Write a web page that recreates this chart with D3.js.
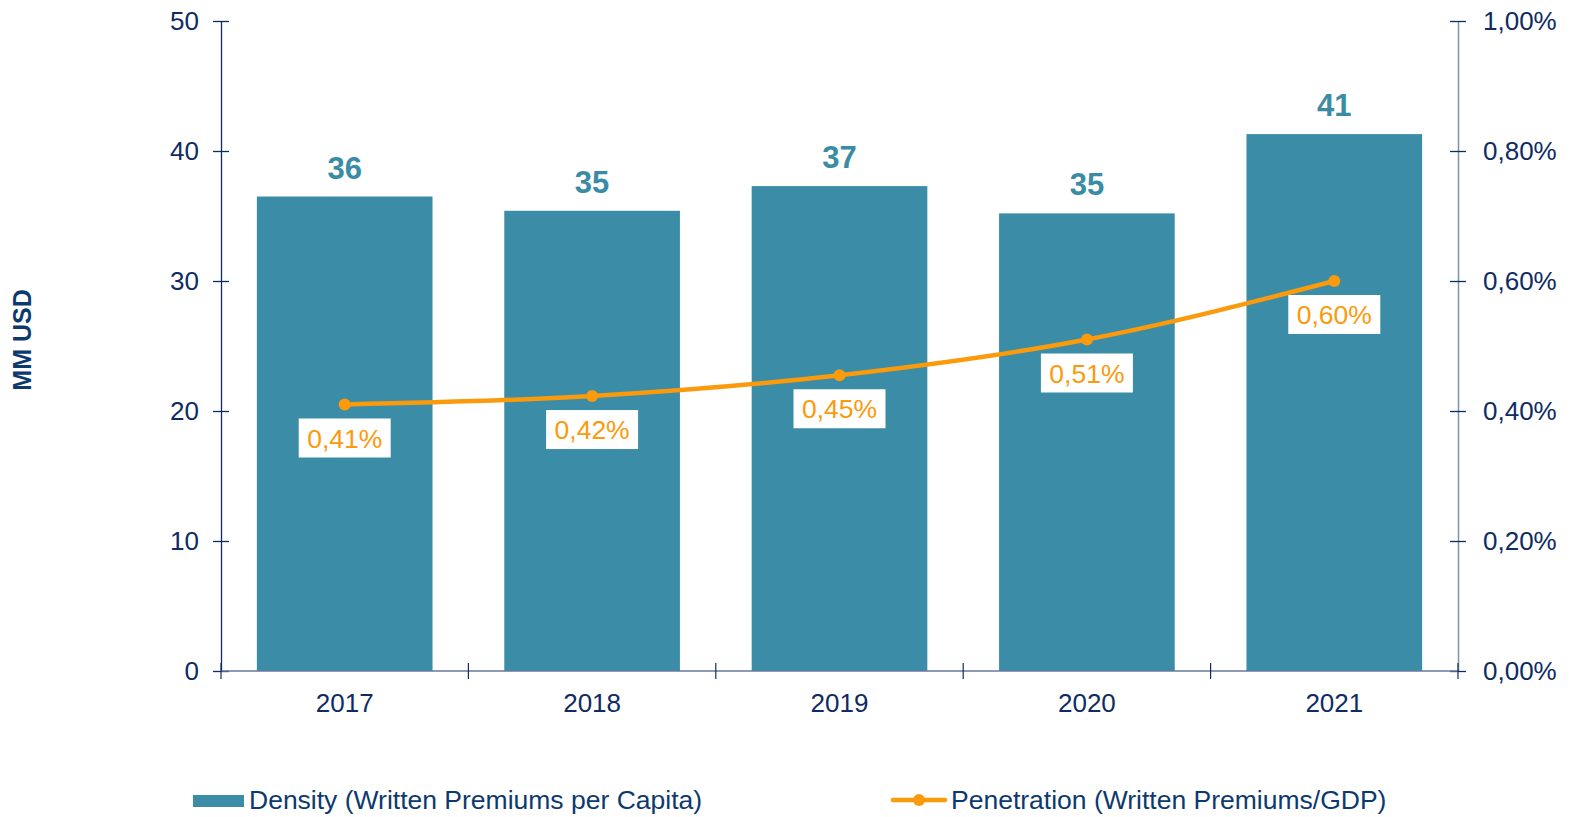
<!DOCTYPE html>
<html>
<head>
<meta charset="utf-8">
<script src="https://cdn.jsdelivr.net/npm/d3@7"></script>
<style>
  body { margin: 0; background: #fff; }
  svg { font-family: Arial, "Liberation Sans", sans-serif; }
</style>
</head>
<body>
<div id="chart"></div>
<script>
// chart data
var years = ["2017", "2018", "2019", "2020", "2021"];
var density = [36.5, 35.4, 37.3, 35.2, 41.3];
var densityLabels = ["36", "35", "37", "35", "41"];
var penetration = [0.0041, 0.00423, 0.00455, 0.0051, 0.006];
var penetrationLabels = ["0,41%", "0,42%", "0,45%", "0,51%", "0,60%"];
var leftTicks = [0, 10, 20, 30, 40, 50];
var rightTicks = [0, 0.002, 0.004, 0.006, 0.008, 0.01];

var svgWidth = 1570;
var svgHeight = 817;

var margin = { top: 21, bottom: 146, left: 221, right: 112 };
var width = svgWidth - margin.left - margin.right;
var height = svgHeight - margin.top - margin.bottom;

var navy = "#0f2b63";
var barColor = "#3a8ca7";
var orange = "#fb9a0b";

var svg = d3.select("#chart")
    .append("svg")
    .attr("width", svgWidth)
    .attr("height", svgHeight);

var chartGroup = svg.append("g")
    .attr("transform", `translate(${margin.left}, ${margin.top})`);

// scales
var xScale = d3.scaleBand()
    .domain(years)
    .range([0, width])
    .paddingInner(0.29)
    .paddingOuter(0.145);

var yLeft = d3.scaleLinear().domain([0, 50]).range([height, 0]);
var yRight = d3.scaleLinear().domain([0, 0.01]).range([height, 0]);

var pctFormat = function (d) { return d3.format(".2%")(d).replace(".", ","); };

// bars
chartGroup.selectAll(".bar")
    .data(years)
    .enter()
    .append("rect")
    .attr("x", d => xScale(d))
    .attr("y", (d, i) => yLeft(density[i]))
    .attr("width", xScale.bandwidth())
    .attr("height", (d, i) => height - yLeft(density[i]))
    .attr("fill", barColor);

// bar value labels
chartGroup.selectAll(".barLabel")
    .data(years)
    .enter()
    .append("text")
    .attr("x", d => xScale(d) + xScale.bandwidth() / 2)
    .attr("y", (d, i) => yLeft(density[i]) - 18)
    .attr("text-anchor", "middle")
    .attr("font-size", "31px")
    .attr("font-weight", "bold")
    .attr("fill", "#3a8ca5")
    .text((d, i) => densityLabels[i]);

// left axis
var leftAxis = d3.axisLeft(yLeft).tickValues(leftTicks).tickSize(0).tickPadding(22);
var gl = chartGroup.append("g").call(leftAxis);
gl.select(".domain").attr("stroke", navy).attr("stroke-width", 1.3);
gl.selectAll(".tick line").remove();
gl.selectAll(".tick").append("line")
    .attr("x1", -8).attr("x2", 8)
    .attr("stroke", navy).attr("stroke-width", 1.3);
gl.selectAll("text").attr("font-size", "26px").attr("fill", navy).attr("font-family", "Arial, 'Liberation Sans', sans-serif");

// right axis
var rightAxis = d3.axisRight(yRight).tickValues(rightTicks).tickFormat(pctFormat).tickSize(0).tickPadding(25);
var gr = chartGroup.append("g")
    .attr("transform", `translate(${width}, 0)`)
    .call(rightAxis);
gr.select(".domain").attr("stroke", "#8090b2").attr("stroke-width", 1.5);
gr.selectAll(".tick line").remove();
gr.selectAll(".tick").append("line")
    .attr("x1", -8).attr("x2", 8)
    .attr("stroke", navy).attr("stroke-width", 1.3);
gr.selectAll("text").attr("font-size", "26px").attr("fill", navy).attr("font-family", "Arial, 'Liberation Sans', sans-serif");

// bottom axis with ticks at category boundaries
var boundaries = d3.range(years.length + 1).map(i => i * xScale.step());
var gx = chartGroup.append("g").attr("transform", `translate(0, ${height})`);
gx.append("line")
    .attr("x1", 0).attr("x2", width)
    .attr("stroke", "#6678a0").attr("stroke-width", 1.3);
gx.selectAll(".xtick")
    .data(boundaries)
    .enter()
    .append("line")
    .attr("x1", d => d).attr("x2", d => d)
    .attr("y1", -8).attr("y2", 8)
    .attr("stroke", navy).attr("stroke-width", 1.2);
gx.selectAll(".xlabel")
    .data(years)
    .enter()
    .append("text")
    .attr("x", d => xScale(d) + xScale.bandwidth() / 2)
    .attr("y", 41)
    .attr("text-anchor", "middle")
    .attr("font-size", "26px")
    .attr("fill", navy)
    .text(d => d);

// penetration line
var line = d3.line()
    .x((d, i) => xScale(years[i]) + xScale.bandwidth() / 2)
    .y(d => yRight(d))
    .curve(d3.curveMonotoneX);

chartGroup.append("path")
    .datum(penetration)
    .attr("d", line)
    .attr("fill", "none")
    .attr("stroke", orange)
    .attr("stroke-width", 4.5);

chartGroup.selectAll(".dot")
    .data(penetration)
    .enter()
    .append("circle")
    .attr("cx", (d, i) => xScale(years[i]) + xScale.bandwidth() / 2)
    .attr("cy", d => yRight(d))
    .attr("r", 6)
    .attr("fill", orange);

// penetration labels in white boxes
var pLabels = chartGroup.selectAll(".pLabel")
    .data(penetration)
    .enter()
    .append("g")
    .attr("transform", (d, i) => `translate(${xScale(years[i]) + xScale.bandwidth() / 2}, ${yRight(d) + 14})`);

pLabels.append("rect")
    .attr("x", -46)
    .attr("y", 0)
    .attr("width", 92)
    .attr("height", 39)
    .attr("fill", "#fff");

pLabels.append("text")
    .attr("x", 0)
    .attr("y", 29)
    .attr("text-anchor", "middle")
    .attr("font-size", "26.5px")
    .attr("fill", orange)
    .text((d, i) => penetrationLabels[i]);

// y axis title
svg.append("text")
    .attr("transform", "translate(31, 340) rotate(-90)")
    .attr("text-anchor", "middle")
    .attr("font-size", "25px")
    .attr("font-weight", "bold")
    .attr("fill", "#0d3a6e")
    .text("MM USD");

// legend
var legend = svg.append("g");
legend.append("rect")
    .attr("x", 193).attr("y", 795)
    .attr("width", 51).attr("height", 12)
    .attr("fill", barColor);
legend.append("text")
    .attr("x", 249).attr("y", 809)
    .attr("font-size", "26.5px")
    .attr("fill", "#0d3a6e")
    .text("Density (Written Premiums per Capita)");

legend.append("line")
    .attr("x1", 893).attr("x2", 945)
    .attr("y1", 800).attr("y2", 800)
    .attr("stroke", orange).attr("stroke-width", 4.5)
    .attr("stroke-linecap", "round");
legend.append("circle")
    .attr("cx", 919).attr("cy", 800)
    .attr("r", 6)
    .attr("fill", orange);
legend.append("text")
    .attr("x", 951).attr("y", 809)
    .attr("font-size", "26.5px")
    .attr("fill", "#0d3a6e")
    .text("Penetration (Written Premiums/GDP)");
</script>
</body>
</html>
